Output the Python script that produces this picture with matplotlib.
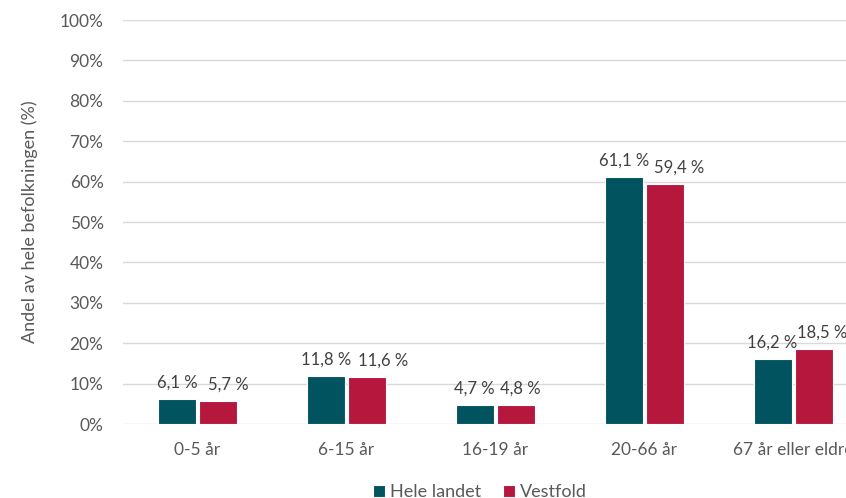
import numpy as np
import matplotlib.pyplot as plt

categories = ["0-5 år", "6-15 år", "16-19 år", "20-66 år", "67 år eller eldre"]
hele_landet = [6.1, 11.8, 4.7, 61.1, 16.2]
vestfold = [5.7, 11.6, 4.8, 59.4, 18.5]
series_names = ["Hele landet", "Vestfold"]

# Vestfold labels are nudged right so they don't run into the neighbour label
vestfold_label_shift = [10, 16, 5, 15, 9]

teal = "#00535F"
crimson = "#B5173D"
grey = "#595959"

plt.rcParams['font.family'] = ['Lato', 'DejaVu Sans']

fig = plt.figure(figsize=(8.46, 4.98), dpi=100)
# axes run past the right edge, so the last group is cut off
ax = fig.add_axes([123/846, 1 - 424/498, (867.5 - 123)/846, (424 - 20)/498])

x = np.arange(len(categories))
w = 0.255
gap = 0.01
b1 = ax.bar(x - w/2 - gap, hele_landet, w, color=teal, edgecolor="white", linewidth=0.8, label=series_names[0])
b2 = ax.bar(x + w/2 + gap, vestfold, w, color=crimson, edgecolor="white", linewidth=0.8, label=series_names[1])

px = 72 / fig.dpi  # pixels -> points
for bars, vals, shifts in ((b1, hele_landet, [0]*5), (b2, vestfold, vestfold_label_shift)):
    for r, v, s in zip(bars, vals, shifts):
        ax.annotate(f"{v:.1f} %".replace(".", ","), (r.get_x() + r.get_width()/2, v),
                    xytext=(s*px, 6), textcoords="offset points", ha="center", va="bottom",
                    fontsize=12, color="#404040", annotation_clip=False)

ax.set_xlim(-0.5, len(categories) - 0.5)
ax.set_ylim(0, 100)
ax.set_yticks(np.arange(0, 101, 10))
ax.set_yticklabels([f"{t}%" for t in range(0, 101, 10)])
ax.set_xticks(x)
ax.set_xticklabels(categories)
ax.yaxis.grid(True, color="#D9D9D9", linewidth=1)
ax.set_axisbelow(True)
for s in ax.spines.values():
    s.set_visible(False)
ax.tick_params(axis="both", length=0, colors=grey, labelsize=12.5)
ax.tick_params(axis="x", pad=13)
ax.tick_params(axis="y", pad=14)

fig.text(30/846, 1 - 222/498, "Andel av hele befolkningen (%)", rotation=90,
         ha="center", va="center", fontsize=13, color=grey)

fig.legend(loc="center", bbox_to_anchor=(480/846, 1 - 492/498), ncol=2, frameon=False,
           fontsize=13, labelcolor=grey, handlelength=0.65, handleheight=0.65,
           handletextpad=0.3, columnspacing=1.2)

fig.savefig("out.png", dpi=100)
